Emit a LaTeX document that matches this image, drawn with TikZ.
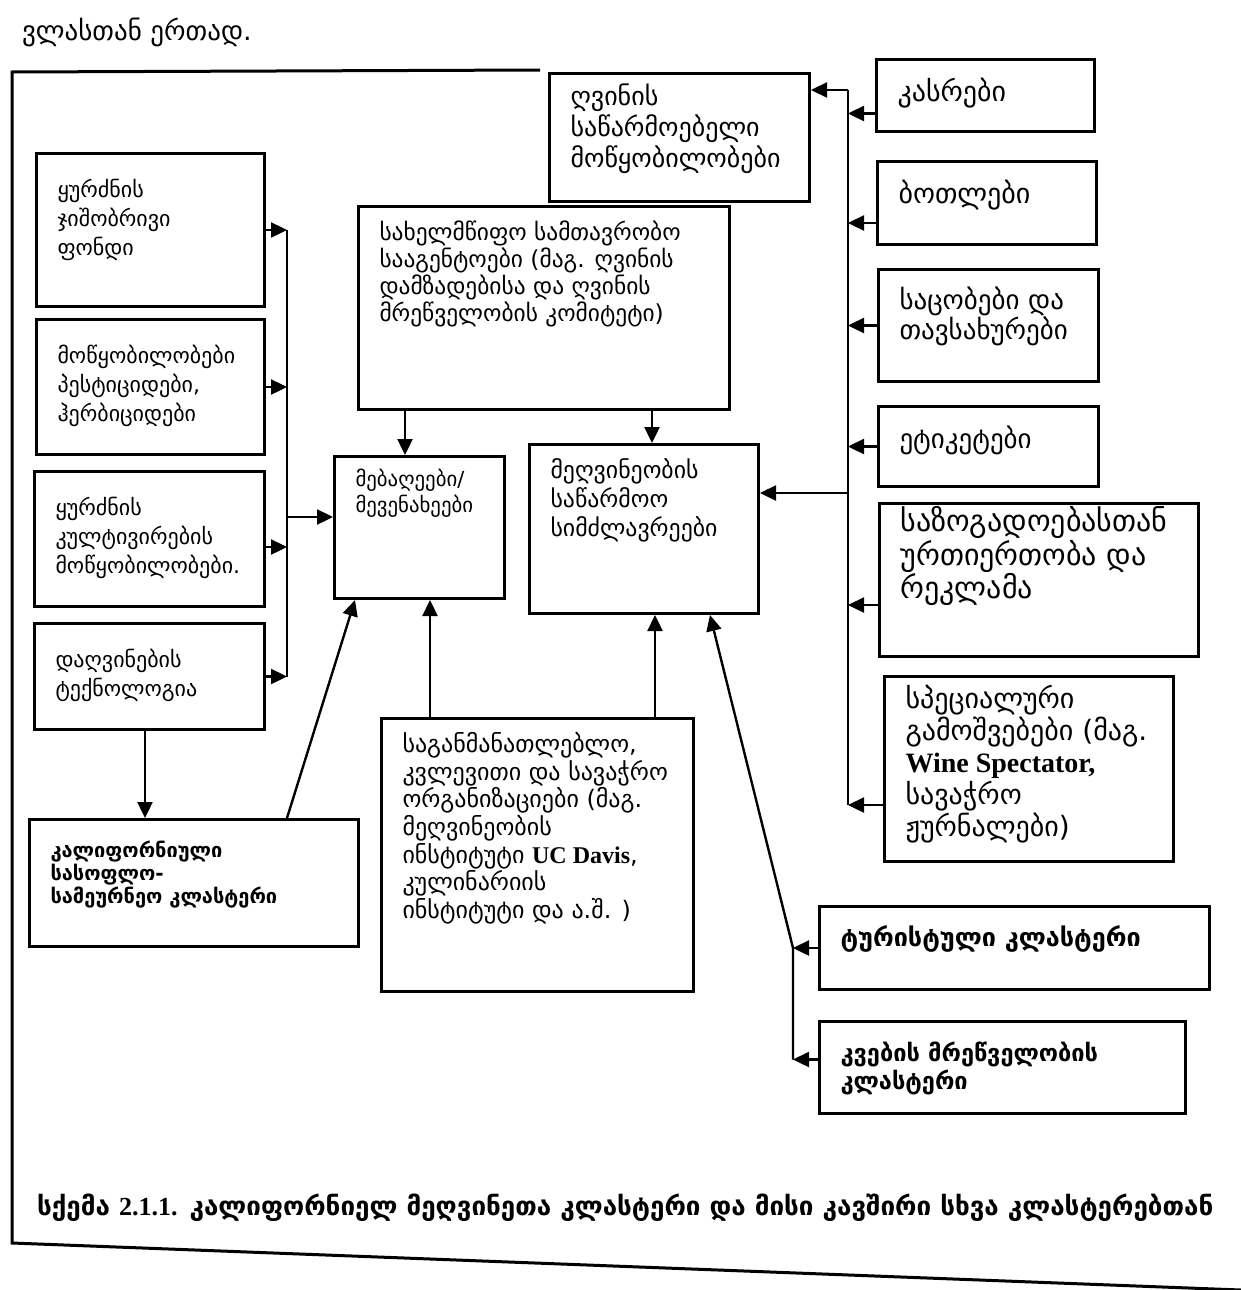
\documentclass[tikz,border=0pt]{standalone}
\usepackage{fontspec}
\setmainfont{DejaVu Sans}
\newfontfamily\lat{Liberation Serif}
\usetikzlibrary{arrows.meta,calc}

\tikzset{
  box/.style={draw, line width=1.5pt, anchor=north west, inner xsep=10.5pt, inner ysep=0pt},
  freccia/.style={line width=1.2pt, -{Triangle[length=8pt,width=7.5pt]}},
  linea/.style={line width=1.2pt},
}
% larghezza e altezza in px, #1 = distanza della prima riga
\newcommand{\bx}[4][16]{\parbox[c][\dimexpr#3pt/2\relax][t]{\dimexpr#2pt/2-21pt\relax}{\raggedright\rule{0pt}{#1pt}\ignorespaces#4}}

\begin{document}
\begin{tikzpicture}[x=0.5pt,y=-0.5pt]
\useasboundingbox (0,0) rectangle (1241,1290);

% cornice
\draw[line width=1.5pt] (540,70) -- (12,72) -- (12,1243) -- (1241,1290);
\node[anchor=base west, font=\fontsize{13.5}{16}\selectfont] (testo) at (15,40) {ვლასთან ერთად.};

% colonna sinistra
\node[box, font=\fontsize{11}{14.5}\selectfont] (gen) at (35,152) {\bx[22]{228}{153}{ყურძნის\\ ჯიშობრივი\\ ფონდი}};
\node[box, font=\fontsize{11}{14.5}\selectfont] (pest) at (35,318) {\bx[22]{228}{135}{მოწყობილობები\\ პესტიციდები,\\ ჰერბიციდები}};
\node[box, font=\fontsize{11}{14.5}\selectfont] (cult) at (33,470) {\bx[22]{230}{135}{ყურძნის\\ კულტივირების\\ მოწყობილობები.}};
\node[box, font=\fontsize{11}{14.5}\selectfont] (tech) at (33,622) {\bx[22]{230}{106}{დაღვინების\\ ტექნოლოგია}};
\node[box, font=\bfseries\fontsize{10}{11.5}\selectfont] (calag) at (28,818) {\bx[19]{329}{127}{კალიფორნიული\\ სასოფლო-\\ სამეურნეო კლასტერი}};

% centro
\node[box, font=\fontsize{11.7}{13.5}\selectfont] (gov) at (357,205) {\bx[17]{371}{203}{სახელმწიფო სამთავრობო\\ სააგენტოები (მაგ. ღვინის\\ დამზადებისა და ღვინის\\ მრეწველობის კომიტეტი)}};
\node[box, font=\fontsize{10.4}{13}\selectfont] (grow) at (333,455) {\bx[15]{170}{142}{მებაღეები/\\ მევენახეები}};
\node[box, font=\fontsize{11.9}{14.5}\selectfont] (cap) at (528,443) {\bx[17]{229}{169}{მეღვინეობის\\ საწარმოო\\ სიმძლავრეები}};
\node[box, font=\fontsize{13}{15.5}\selectfont] (equip) at (548,72) {\bx[16]{260}{128}{ღვინის\\ საწარმოებელი\\ მოწყობილობები}};
\node[box, font=\fontsize{12}{12.8}\selectfont] (edu) at (380,717) {\bx[17]{312}{273}{საგანმანათლებლო,\\ კვლევითი და სავაჭრო\\ ორგანიზაციები (მაგ.\\ მეღვინეობის\\ ინსტიტუტი {\lat\bfseries UC Davis},\\ კულინარიის\\ ინსტიტუტი და ა.შ. )}};

% colonna destra
\node[box, font=\fontsize{14}{15}\selectfont] (barrel) at (875,58) {\bx[21]{218}{72}{კასრები}};
\node[box, font=\fontsize{14}{15}\selectfont] (bottle) at (876,160) {\bx[21]{219}{83}{ბოთლები}};
\node[box, font=\fontsize{13.5}{15}\selectfont] (cork) at (877,268) {\bx[20]{220}{112}{საცობები და\\ თავსახურები}};
\node[box, font=\fontsize{13.5}{15}\selectfont] (label) at (877,405) {\bx[21]{220}{80}{ეტიკეტები}};
\node[box, font=\fontsize{15}{16.8}\selectfont] (pr) at (878,502) {\bx[14]{319}{153}{საზოგადოებასთან\\ ურთიერთობა და\\ რეკლამა}};
\node[box, font=\fontsize{14}{16}\selectfont] (press) at (883,675) {\bx[16]{289}{185}{სპეციალური\\ გამოშვებები (მაგ.\\ {\lat\bfseries Wine Spectator,}\\ სავაჭრო\\ ჟურნალები)}};
\node[box, font=\bfseries\fontsize{12.6}{14}\selectfont] (tour) at (818,905) {\bx[20]{390}{83}{ტურისტული კლასტერი}};
\node[box, font=\bfseries\fontsize{11.8}{14}\selectfont] (food) at (818,1020) {\bx[20]{366}{92}{კვების მრეწველობის\\ კლასტერი}};

% didascalia
\node[anchor=base west, font=\bfseries\fontsize{13}{15}\selectfont] (cap211) at (30,1215) {სქემა {\lat 2.1.1.} კალიფორნიელ მეღვინეთა კლასტერი და მისი კავშირი სხვა კლასტერებთან};

% punti di appoggio
\coordinate (trL) at (287,0);
\coordinate (trR) at (848,0);
\coordinate (trB) at (793,0);
\coordinate (g1) at (405,0);
\coordinate (g2) at (652,0);
\coordinate (g3) at (430,0);
\coordinate (g4) at (655,0);
\coordinate (g5) at (145,0);
\coordinate (g6) at (710,0);
\coordinate (rtop) at (848,90);
\coordinate (rcap) at (848,493);
\coordinate (rbot) at (848,805);
\coordinate (lgrow) at (287,517);
\coordinate (cult1) at ($(cult.east)+(0,8)$);
\coordinate (bott1) at ($(bottle.west)+(0,20)$);
\coordinate (barr1) at ($(barrel.west)+(0,18)$);
\coordinate (pr1) at ($(pr.west)+(0,25)$);
\coordinate (food1) at ($(food.west)+(0,-8)$);

% frecce a sinistra
\draw[freccia] (gen.east) -- (gen.east -| trL);
\draw[freccia] (pest.east) -- (pest.east -| trL);
\draw[freccia] (cult1) -- (cult1 -| trL);
\draw[freccia] (tech.east) -- (tech.east -| trL);
\draw[linea] (gen.east -| trL) -- (tech.east -| trL);
\draw[freccia] (lgrow) -- (grow.west |- lgrow);
\draw[freccia] (tech.south -| g5) -- (calag.north -| g5);
\draw[freccia] (calag.north -| trL) -- ($(grow.south west)+(22,0)$);

% frecce al centro
\draw[freccia] (gov.south -| g1) -- (grow.north -| g1);
\draw[freccia] (gov.south -| g2) -- (cap.north -| g2);
\draw[freccia] (edu.north -| g3) -- (grow.south -| g3);
\draw[freccia] (edu.north -| g4) -- (cap.south -| g4);

% frecce a destra
\draw[freccia] (barr1) -- (barr1 -| trR);
\draw[freccia] (bott1) -- (bott1 -| trR);
\draw[freccia] (cork.west) -- (cork.west -| trR);
\draw[freccia] (label.west) -- (label.west -| trR);
\draw[freccia] (pr1) -- (pr1 -| trR);
\draw[freccia] (press.west |- rbot) -- (rbot);
\draw[linea] (rtop) -- (rbot);
\draw[freccia] (rtop) -- (equip.east |- rtop);
\draw[freccia] (rcap) -- (cap.east |- rcap);

% cluster esterni
\draw[freccia] (tour.west) -- (tour.west -| trB);
\draw[freccia] (food1) -- (food1 -| trB);
\draw[freccia] (food1 -| trB) -- (tour.west -| trB) -- (cap.south -| g6);
\end{tikzpicture}
\end{document}
